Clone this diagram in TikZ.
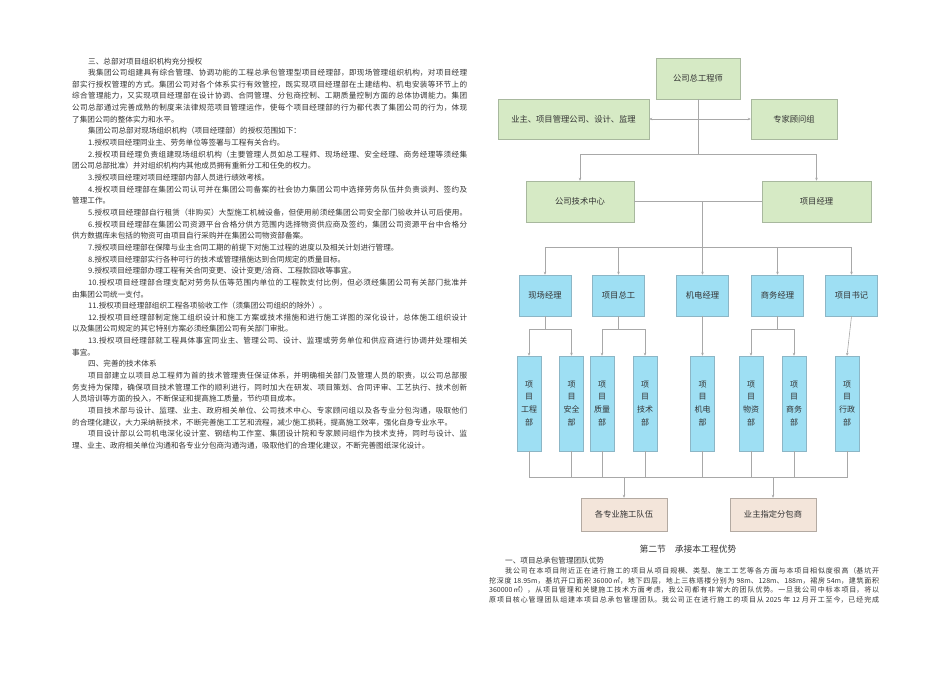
\documentclass[tikz,border=0pt]{standalone}
\usepackage{fontspec}
\setmainfont{Noto Sans CJK SC}
\usetikzlibrary{arrows.meta}
\XeTeXlinebreaklocale "zh"
\XeTeXlinebreakskip=0pt plus 2pt
\definecolor{gfill}{HTML}{D6EAC5}\definecolor{gline}{HTML}{A8B89E}
\definecolor{bfill}{HTML}{9EDFF3}\definecolor{bline}{HTML}{8CB6C6}
\definecolor{pfill}{HTML}{F3E5DA}\definecolor{pline}{HTML}{B3AAA2}
\definecolor{cline}{HTML}{A8A8A8}\definecolor{txt}{HTML}{333333}
\newcommand\tsz{\fontsize{7.6}{9}\selectfont}
\newcommand\rsz{\fontsize{7.0}{9}\selectfont}
\newcommand\Jl[3]{\node[tx] (l#1) at (#2,{64+11.65*#1}) {\parbox[t]{\dimexpr467pt-#2pt\relax}{\parfillskip=0pt\relax #3\par}};}
\newcommand\Pl[3]{\node[tx] (l#1) at (#2,{64+11.65*#1}) {#3};}
\newcommand\Jr[4]{\node[tx,font=\rsz] (#1) at (#2,#3) {\parbox[t]{\dimexpr879pt-#2pt\relax}{\parfillskip=0pt\relax #4\par}};}
\begin{document}
\begin{tikzpicture}[x=1pt,y=-1pt,
  tx/.style={anchor=base west,inner sep=0,font=\tsz,text=txt},
  bx/.style={draw,line width=0.5pt,inner sep=0,font=\fontsize{8.3}{10}\selectfont,text=txt},
  gb/.style={bx,fill=gfill,draw=gline},
  bb/.style={bx,fill=bfill,draw=bline,minimum width=52pt,minimum height=41pt},
  vb/.style={bx,fill=bfill,draw=bline,minimum width=24pt,minimum height=95pt,align=center,font=\fontsize{8}{12.8}\selectfont},
  pb/.style={bx,fill=pfill,draw=pline,minimum width=86pt,minimum height=33pt},
  ln/.style={draw=cline,line width=0.6pt},
  ar/.style={ln,-{Stealth[length=3pt,width=2.6pt]}}]
\useasboundingbox (0,0) rectangle (950,672);
% ---------- left text ----------
\Pl{0}{88}{三、总部对项目组织机构充分授权}
\Jl{1}{88}{我集团公司组建具有综合管理、协调功能的工程总承包管理型项目经理部，即现场管理组织机构，对项目经理}
\Jl{2}{72}{部实行授权管理的方式。集团公司对各个体系实行有效管控，既实现项目经理部在土建结构、机电安装等环节上的}
\Jl{3}{72}{综合管理能力，又实现项目经理部在设计协调、合同管理、分包商控制、工期质量控制方面的总体协调能力。集团}
\Jl{4}{72}{公司总部通过完善成熟的制度来法律规范项目管理运作，使每个项目经理部的行为都代表了集团公司的行为，体现}
\Pl{5}{72}{了集团公司的整体实力和水平。}
\Pl{6}{88}{集团公司总部对现场组织机构（项目经理部）的授权范围如下：}
\Pl{7}{88}{1.授权项目经理同业主、劳务单位等签署与工程有关合约。}
\Jl{8}{88}{2.授权项目经理负责组建现场组织机构（主要管理人员如总工程师、现场经理、安全经理、商务经理等须经集}
\Pl{9}{72}{团公司总部批准）并对组织机构内其他成员拥有重新分工和任免的权力。}
\Pl{10}{88}{3.授权项目经理对项目经理部内部人员进行绩效考核。}
\Jl{11}{88}{4.授权项目经理部在集团公司认可并在集团公司备案的社会协力集团公司中选择劳务队伍并负责谈判、签约及}
\Pl{12}{72}{管理工作。}
\Jl{13}{88}{5.授权项目经理部自行租赁（非购买）大型施工机械设备，但使用前须经集团公司安全部门验收并认可后使用。}
\Jl{14}{88}{6.授权项目经理部在集团公司资源平台合格分供方范围内选择物资供应商及签约，集团公司资源平台中合格分}
\Pl{15}{72}{供方数据库未包括的物资可由项目自行采购并在集团公司物资部备案。}
\Pl{16}{88}{7.授权项目经理部在保障与业主合同工期的前提下对施工过程的进度以及相关计划进行管理。}
\Pl{17}{88}{8.授权项目经理部实行各种可行的技术或管理措施达到合同规定的质量目标。}
\Pl{18}{88}{9.授权项目经理部办理工程有关合同变更、设计变更/洽商、工程款回收等事宜。}
\Jl{19}{88}{10.授权项目经理部合理支配对劳务队伍等范围内单位的工程款支付比例，但必须经集团公司有关部门批准并}
\Pl{20}{72}{由集团公司统一支付。}
\Pl{21}{88}{11.授权项目经理部组织工程各项验收工作（须集团公司组织的除外）。}
\Jl{22}{88}{12.授权项目经理部制定施工组织设计和施工方案或技术措施和进行施工详图的深化设计，总体施工组织设计}
\Pl{23}{72}{以及集团公司规定的其它特别方案必须经集团公司有关部门审批。}
\Jl{24}{88}{13.授权项目经理部就工程具体事宜同业主、管理公司、设计、监理或劳务单位和供应商进行协调并处理相关}
\Pl{25}{72}{事宜。}
\Pl{26}{88}{四、完善的技术体系}
\Jl{27}{88}{项目部建立以项目总工程师为首的技术管理责任保证体系，并明确相关部门及管理人员的职责，以公司总部服}
\Jl{28}{72}{务支持为保障，确保项目技术管理工作的顺利进行，同时加大在研发、项目策划、合同评审、工艺执行、技术创新}
\Pl{29}{72}{人员培训等方面的投入，不断保证和提高施工质量，节约项目成本。}
\Jl{30}{88}{项目技术部与设计、监理、业主、政府相关单位、公司技术中心、专家顾问组以及各专业分包沟通，吸取他们}
\Pl{31}{72}{的合理化建议，大力采纳新技术，不断完善施工工艺和流程，减少施工损耗，提高施工效率，强化自身专业水平。}
\Jl{32}{88}{项目设计部以公司机电深化设计室、钢结构工作室、集团设计院和专家顾问组作为技术支持，同时与设计、监}
\Pl{33}{72}{理、业主、政府相关单位沟通和各专业分包商沟通沟通，吸取他们的合理化建议，不断完善图纸深化设计。}
% ---------- org chart ----------
\node[gb,minimum width=84pt,minimum height=41pt] (ce) at (698,78.5) {公司总工程师};
\node[gb,minimum width=151pt,minimum height=40pt] (ow) at (573.5,119) {业主、项目管理公司、设计、监理};
\node[gb,minimum width=86pt,minimum height=40pt] (ex) at (794,119) {专家顾问组};
\node[gb,minimum width=108pt,minimum height=41pt] (tc) at (580,201.5) {公司技术中心};
\node[gb,minimum width=109pt,minimum height=41pt] (pm) at (816.5,201.5) {项目经理};
\node[bb] (m1) at (545,295.5) {现场经理};
\node[bb] (m2) at (618.5,295.5) {项目总工};
\node[bb] (m3) at (702.5,295.5) {机电经理};
\node[bb] (m4) at (777.5,295.5) {商务经理};
\node[bb] (m5) at (851.5,295.5) {项目书记};
\node[vb] (d1) at (529,403.5) {项\\目\\工程\\部};
\node[vb] (d2) at (571.5,403.5) {项\\目\\安全\\部};
\node[vb] (d3) at (602,403.5) {项\\目\\质量\\部};
\node[vb] (d4) at (645,403.5) {项\\目\\技术\\部};
\node[vb] (d5) at (702.5,403.5) {项\\目\\机电\\部};
\node[vb] (d6) at (751,403.5) {项\\目\\物资\\部};
\node[vb] (d7) at (794,403.5) {项\\目\\商务\\部};
\node[vb] (d8) at (847,403.5) {项\\目\\行政\\部};
\node[pb] (b1) at (624,514.5) {各专业施工队伍};
\node[pb] (b2) at (773,514.5) {业主指定分包商};
% connectors
\coordinate (a1) at (698,119);
\coordinate (j1) at (698,154);
\draw[ln] (ce.south) -- (j1);
\draw[ar] (a1) -- (ow.east);
\draw[ar] (a1) -- (ex.west);
\draw[ar] (j1) -| (tc.north);
\draw[ar] (j1) -| (pm.north);
\draw[ln] (tc.east) -- (pm.west);
\coordinate (j2) at (702.5,201.5);
\coordinate (j3) at (702.5,247);
\draw[ln] (j2) -- (j3);
\foreach \m in {m1,m2,m3,m4,m5}{\draw[ar] (j3) -| (\m.north);}
\coordinate (s1) at (545,329);
\coordinate (s2) at (618.5,329);
\coordinate (s4) at (777.5,329);
\draw[ln] (m1.south) -- (s1);
\draw[ar] (s1) -| (d1.north); \draw[ar] (s1) -| (d2.north);
\draw[ln] (m2.south) -- (s2);
\draw[ar] (s2) -| (d3.north); \draw[ar] (s2) -| (d4.north);
\draw[ln] (m4.south) -- (s4);
\draw[ar] (s4) -| (d6.north); \draw[ar] (s4) -| (d7.north);
\draw[ar] (m3.south) -- (d5.north);
\draw[ar] (m5.south) -- (d8.north);
\coordinate (e1) at (624,477);
\coordinate (e2) at (773,477);
\foreach \d in {d1,d2,d3,d4,d5,d6,d7,d8}{\draw[ln] (\d.south) |- (e1);}
\draw[ln] (e1) -| (d8.south);
\draw[ar] (e1) -- (b1.north);
\draw[ar] (e2) -- (b2.north);
% ---------- right bottom text ----------
\node[anchor=base,inner sep=0,font=\fontsize{8.8}{10}\selectfont,text=txt] (h2) at (688,552) {第二节\quad 承接本工程优势};
\node[tx] (h3) at (505,563) {一、项目总承包管理团队优势};
\Jr{r1}{505}{573}{我公司在本项目附近正在进行施工的项目从项目规模、类型、施工工艺等各方面与本项目相似度很高（基坑开}
\Jr{r2}{489}{583}{挖深度 18.95m，基坑开口面积 36000㎡，地下四层，地上三栋塔楼分别为 98m、128m、188m，裙房 54m，建筑面积}
\Jr{r3}{489}{592.5}{360000㎡），从项目管理和关键施工技术方面考虑，我公司都有非常大的团队优势。一旦我公司中标本项目，将以}
\Jr{r4}{489}{602}{原项目核心管理团队组建本项目总承包管理团队。我公司正在进行施工的项目从 2025 年 12 月开工至今，已经完成}
\end{tikzpicture}
\end{document}
